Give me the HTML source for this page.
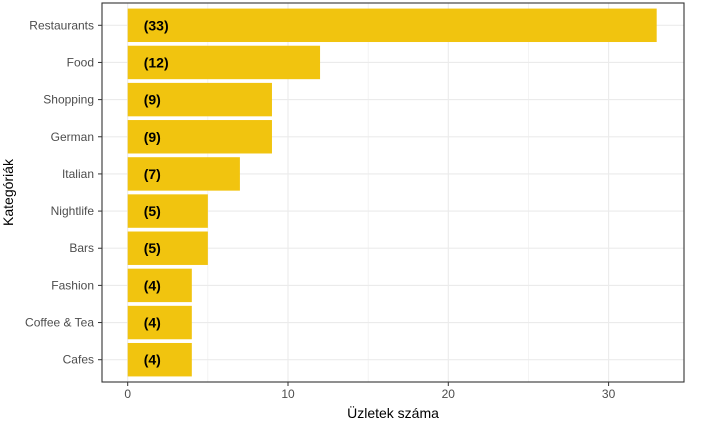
<!DOCTYPE html>
<html><head><meta charset="utf-8"><style>
body{margin:0;background:#fff}
svg{display:block;font-family:"Liberation Sans",Arial,sans-serif}
</style></head><body>
<svg id="c" width="723" height="437"></svg>
<script>
const categories=["Restaurants","Food","Shopping","German","Italian","Nightlife","Bars","Fashion","Coffee & Tea","Cafes"];
const values=[33,12,9,9,7,5,5,4,4,4];
const xTicks=[0,10,20,30];
const L=102,R=684,T=3,B=382;
const x0=127.7,k=16.03;
const X=v=>x0+v*k;
const band=(B-T)/10.2;
const Y=i=>T+band*(0.6+i);
const svg=document.getElementById('c');
const NS='http://www.w3.org/2000/svg';
function mk(t,a,p){const e=document.createElementNS(NS,t);for(const q in a)e.setAttribute(q,a[q]);(p||svg).appendChild(e);return e;}
const grid=mk('g',{});


for(let v=5;v<35;v+=5){const g=mk('line',{x1:X(v),x2:X(v),y1:T,y2:B,stroke:'#ebebeb','stroke-width':v%10==0?1.1:0.55},grid);}
mk('line',{x1:X(0),x2:X(0),y1:T,y2:B,stroke:'#ebebeb','stroke-width':1.1},grid);
categories.forEach((c,i)=>{mk('line',{x1:L,x2:R,y1:Y(i),y2:Y(i),stroke:'#ebebeb','stroke-width':1.1},grid);});
categories.forEach((c,i)=>{
  const y=Y(i),h=band*0.9;
  const r=mk('rect',{x:X(0),y:y-h/2,width:X(values[i])-X(0),height:h,fill:'#f1c40f'});
  
  
  const t=mk('text',{x:X(1),y:y+5,'font-size':14,'font-weight':'bold',fill:'#000'});
  t.textContent='('+values[i]+')';
  
  
  const lb=mk('text',{x:L-8,y:y+4,'font-size':12,fill:'#4d4d4d','text-anchor':'end'});
  lb.textContent=c;
  
  
  mk('line',{x1:L-4,x2:L,y1:y,y2:y,stroke:'#333','stroke-width':1});
});
xTicks.forEach(v=>{
  mk('line',{x1:X(v),x2:X(v),y1:B,y2:B+4,stroke:'#333','stroke-width':1});
  const t=mk('text',{x:X(v),y:B+16,'font-size':12,fill:'#4d4d4d','text-anchor':'middle'});
  t.textContent=v;
  
  
});
const fr=mk('rect',{x:L,y:T,width:R-L,height:B-T,fill:'none',stroke:'#333','stroke-width':1.1});


const xt=mk('text',{x:(L+R)/2,y:418,'font-size':14,fill:'#000','text-anchor':'middle'});
xt.textContent='Üzletek száma';


const yt=mk('text',{x:0,y:0,'font-size':14,fill:'#000','text-anchor':'middle',transform:'translate(13,'+((T+B)/2)+') rotate(-90)'});
yt.textContent='Kategóriák';


</script>
</body></html>
